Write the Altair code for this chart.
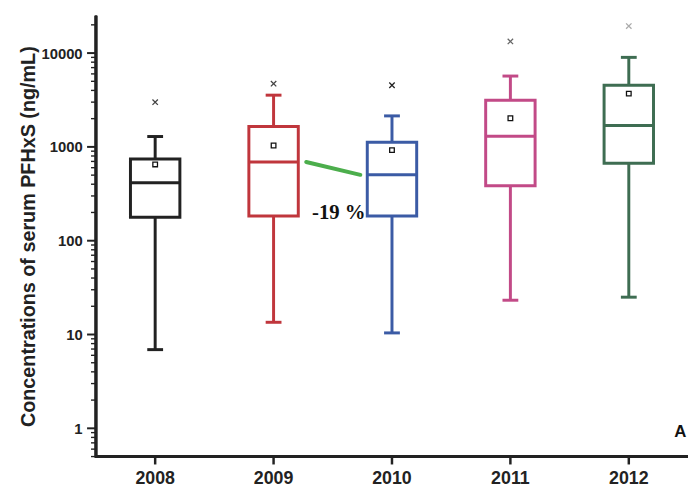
import altair as alt
import pandas as pd

years = ["2008", "2009", "2010", "2011", "2012"]
q1 = [178, 183, 183, 385, 668]
median = [415, 690, 504, 1296, 1690]
q3 = [741, 1650, 1120, 3150, 4540]
whisk_low = [6.9, 13.5, 10.4, 23.2, 25]
whisk_high = [1290, 3560, 2140, 5690, 9000]
means = [650, 1035, 923, 2020, 3700]
maxima = [3000, 4720, 4540, 13300, 19400]
colors = ["#222222", "#c0363c", "#3b5ba5", "#c24a87", "#3e6d52"]
max_colors = ["#444444", "#444444", "#222222", "#666666", "#aaaaaa"]

arrow_from = ["2009"]
arrow_to = ["2010"]
arrow_y1 = [690]
arrow_y2 = [504]
change_label = ["-19 %"]
change_y = [196]
panel_label = ["A"]
panel_y = [0.91]

major_ticks = [1, 10, 100, 1000, 10000]
minor_ticks = [0.5, 0.6, 0.7, 0.8, 0.9] + [m * d for d in [1, 10, 100, 1000] for m in range(2, 10)] + [20000]

df = pd.DataFrame({
    "year": years, "q1": q1, "median": median, "q3": q3,
    "lo": whisk_low, "hi": whisk_high, "mean": means, "max": maxima,
    "mc": max_colors,
})
major_df = pd.DataFrame({"v": major_ticks})
minor_df = pd.DataFrame({"v": minor_ticks})

FONT = "Liberation Sans"
W, H = 611, 456      # view size
AX = 12              # x position of the drawn y-axis line inside the view
YB = 446             # y position of the drawn x-axis line inside the view
INK = "#222222"

xscale = alt.Scale(domain=years, paddingInner=0, paddingOuter=0, range=[AX, W])
x = alt.X("year:N", scale=xscale,
          axis=alt.Axis(title=None, labelAngle=0, labelFont=FONT, labelFontWeight="bold",
                        labelFontSize=18, labelColor=INK, labelPadding=3,
                        ticks=False, domain=False, grid=False))

yscale = alt.Scale(type="log", domain=[0.5, 25000], nice=False, range=[YB, 0])
yaxis = alt.Axis(title="Concentrations of serum PFHxS (ng/mL)", titleFont=FONT,
                 titleFontSize=20, titleFontWeight="bold", titleColor=INK, titlePadding=2,
                 values=major_ticks, format="d",
                 labelFont=FONT, labelFontWeight="bold", labelFontSize=15, labelColor=INK,
                 labelPadding=2, labelOverlap=False, ticks=False, domain=False, grid=False)

color = alt.Color("year:N", scale=alt.Scale(domain=years, range=colors), legend=None)

base = alt.Chart(df).encode(x=x)

whisk = base.mark_rule(strokeWidth=3).encode(
    y=alt.Y("lo:Q", scale=yscale, axis=yaxis), y2="hi:Q", color=color)
cap_lo = base.mark_tick(size=16, thickness=3, opacity=1).encode(y="lo:Q", color=color)
cap_hi = base.mark_tick(size=16, thickness=3, opacity=1).encode(y="hi:Q", color=color)
box = base.mark_bar(size=50, fill="white", strokeWidth=3).encode(
    y="q1:Q", y2="q3:Q", stroke=alt.Stroke("year:N", scale=alt.Scale(domain=years, range=colors), legend=None))
med = base.mark_tick(size=50, thickness=3, opacity=1).encode(y="median:Q", color=color)
mean_pt = base.mark_point(shape="square", size=22, filled=False, strokeWidth=1.3, color="#111", opacity=1).encode(y="mean:Q")
max_pt = base.mark_point(shape="M-1,-1L1,1M1,-1L-1,1", size=30, filled=False, strokeWidth=1.3, opacity=1).encode(
    y="max:Q", stroke=alt.Stroke("mc:N", scale=None))

# axis lines and tick marks (drawn as filled tick rectangles)
y_line = alt.Chart(major_df).mark_rule(strokeWidth=2.5, color=INK).encode(
    x=alt.value(AX), y=alt.value(0), y2=alt.value(YB + 1))
x_line = alt.Chart(major_df).mark_rule(strokeWidth=2.5, color=INK).encode(
    x=alt.value(AX - 1), x2=alt.value(W), y=alt.value(YB))
ytick_major = alt.Chart(major_df).mark_tick(orient="horizontal", size=9, thickness=2,
                                            color=INK, opacity=1).encode(
    y="v:Q", x=alt.value(AX - 4.5))
ytick_minor = alt.Chart(minor_df).mark_tick(orient="horizontal", size=5, thickness=1.4,
                                            color=INK, opacity=1).encode(
    y="v:Q", x=alt.value(AX - 2.5))
xtick = base.mark_tick(orient="vertical", size=8, thickness=2.5, color=INK, opacity=1).encode(
    y=alt.value(YB + 4))

arrow_df = pd.DataFrame({"a": arrow_from, "b": arrow_to, "y1": arrow_y1, "y2": arrow_y2})
arrow = alt.Chart(arrow_df).mark_rule(color="#4cae4c", strokeWidth=4, strokeCap="round",
                                      xOffset=33, x2Offset=-32).encode(
    x=alt.X("a:N", scale=xscale), x2="b:N", y="y1:Q", y2="y2:Q")

txt_df = pd.DataFrame({"x": arrow_from, "t": change_label, "y": change_y})
txt = alt.Chart(txt_df).mark_text(font="Liberation Serif", fontWeight="bold", fontSize=21,
                                  color="#111", dx=66, baseline="middle").encode(
    x=alt.X("x:N", scale=xscale), y="y:Q", text="t:N")

a_df = pd.DataFrame({"x": [years[-1]], "t": panel_label, "y": panel_y})
a_txt = alt.Chart(a_df).mark_text(font=FONT, fontWeight="bold", fontSize=17, color="#111",
                                  dx=52, baseline="middle").encode(
    x=alt.X("x:N", scale=xscale), y="y:Q", text="t:N")

chart = alt.layer(whisk, cap_lo, cap_hi, box, med, mean_pt, max_pt, arrow, txt, a_txt,
                  y_line, x_line, ytick_major, ytick_minor, xtick).properties(
    width=W, height=H,
    autosize=alt.AutoSizeParams(type="none"),
    padding={"left": 77, "top": 5, "right": 0, "bottom": 22},
    background="white",
).configure_view(stroke=None)

chart.save("out.html", embed_options={"renderer": "svg", "actions": False})
